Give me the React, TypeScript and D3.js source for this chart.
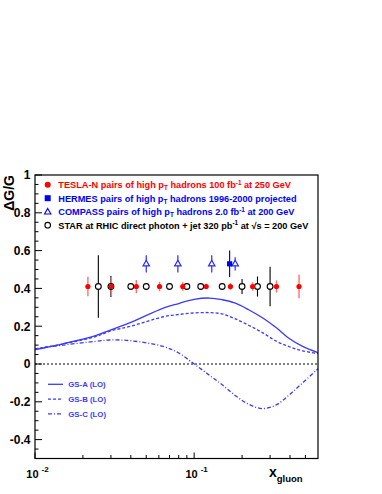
import * as d3 from "d3";
import React from "react";

const W = 382;
const H = 494;
const margin = { top: 175, right: 64, bottom: 35.5, left: 35 };

// TESLA-N pairs of high pT hadrons
const teslaX = [0.0215, 0.0302, 0.0433, 0.0606, 0.0848, 0.119, 0.169, 0.233, 0.329, 0.456];
const teslaY = [0.41, 0.41, 0.41, 0.41, 0.41, 0.41, 0.41, 0.41, 0.41, 0.41];
const teslaErr = [0.052, 0.05, 0.035, 0.025, 0.022, 0.015, 0.018, 0.022, 0.032, 0.062];

// STAR direct photon + jet
const starX = [0.025, 0.03, 0.04, 0.05, 0.07, 0.09, 0.11, 0.15, 0.2, 0.25, 0.3];
const starY = [0.41, 0.41, 0.41, 0.41, 0.41, 0.41, 0.41, 0.41, 0.41, 0.41, 0.41];
const starErr = [0.165, 0.055, 0.01, 0.01, 0.01, 0.012, 0.012, 0.012, 0.04, 0.053, 0.105];

// COMPASS
const compassX = [0.05, 0.079, 0.129, 0.181];
const compassY = [0.53, 0.53, 0.53, 0.53];
const compassErr = [0.046, 0.046, 0.046, 0.035];

// HERMES
const hermesX = [0.167];
const hermesY = [0.53];
const hermesErr = [0.07];

// GS parametrisations (LO)
const gsX = [0.01, 0.015, 0.024, 0.03, 0.04, 0.064, 0.08, 0.1, 0.125, 0.15, 0.18, 0.22, 0.27, 0.33, 0.4, 0.48, 0.6];
const gsA = [0.076, 0.107, 0.15, 0.181, 0.22, 0.296, 0.32, 0.342, 0.349, 0.34, 0.323, 0.287, 0.243, 0.19, 0.132, 0.093, 0.06];
const gsB = [0.08, 0.106, 0.145, 0.175, 0.2, 0.25, 0.262, 0.27, 0.272, 0.265, 0.24, 0.205, 0.165, 0.12, 0.09, 0.07, 0.055];
const gsC = [0.08, 0.1, 0.12, 0.127, 0.123, 0.093, 0.058, 0.0, -0.06, -0.11, -0.165, -0.213, -0.236, -0.215, -0.16, -0.1, -0.025];

const yMajor = [-0.4, -0.2, 0, 0.2, 0.4, 0.6, 0.8, 1];
const yMajorLabels = ["-0.4", "-0.2", "0", "0.2", "0.4", "0.6", "0.8", "1"];
const xMajor = [0.01, 0.1];
const xMajorExp = ["-2", "-1"];

const legendRows = [
  { color: "#ff0000", parts: [["TESLA-N pairs of high p", ""], ["T", "sub"], [" hadrons 100 fb", ""], ["-1", "sup"], [" at 250 GeV", ""]] },
  { color: "#0000ff", parts: [["HERMES pairs of high p", ""], ["T", "sub"], [" hadrons 1996-2000 projected", ""]] },
  { color: "#0000ff", parts: [["COMPASS pairs of high p", ""], ["T", "sub"], [" hadrons 2.0 fb", ""], ["-1", "sup"], [" at 200 GeV", ""]] },
  { color: "#000000", parts: [["STAR at RHIC direct photon + jet 320 pb", ""], ["-1", "sup"], [" at ", ""], ["\u221As", ""], [" = 200 GeV", ""]] },
];
const curveLabels = ["GS-A (LO)", "GS-B (LO)", "GS-C (LO)"];
const curveDash = ["none", "3,2", "4,2,1,2"];

const font = "'Liberation Sans', Arial, Helvetica, sans-serif";
const curveColor = "#3a3aff";

export default function App() {
  const x = d3.scaleLog().domain([0.01, 0.6]).range([margin.left, W - margin.right]);
  const y = d3.scaleLinear().domain([-0.5, 1]).range([H - margin.bottom, margin.top]);
  const x0 = margin.left, x1 = W - margin.right, y0 = H - margin.bottom, y1 = margin.top;

  const line = d3
    .line<number>()
    .x((_, i) => x(gsX[i]))
    .curve(d3.curveCatmullRom.alpha(0.5));
  const curves = [gsA, gsB, gsC];

  const yMinor = d3.range(-0.5, 1.0001, 0.05).map((v) => +v.toFixed(2));
  const xMinor: number[] = [];
  [0.01, 0.1].forEach((dec) => d3.range(2, 10).forEach((k) => { if (dec * k < 0.6) xMinor.push(dec * k); }));

  const tri = "M0,-3.6L3.2,2L-3.2,2Z";
  const fs = 9.2; // legend font size
  const fsSmall = 6.4;

  return (
    <svg width={W} height={H} style={{ position: "absolute", left: 0, top: 0, background: "#fff" }} fontFamily={font}>
      <defs>
        <clipPath id="frame">
          <rect x={x0} y={y1} width={x1 - x0} height={y0 - y1} />
        </clipPath>
      </defs>

      {/* zero line */}
      <line x1={x0} x2={x1} y1={y(0)} y2={y(0)} stroke="#000" strokeWidth={1} strokeDasharray="2,2" />

      {/* curves */}
      <g clipPath="url(#frame)" fill="none" stroke={curveColor}>
        {curves.map((c, i) => (
          <path key={i} d={line.y((_, j) => y(c[j]))(c) || ""} strokeWidth={1.3}
            strokeDasharray={curveDash[i] === "none" ? undefined : curveDash[i]} />
        ))}
      </g>

      {/* STAR */}
      <g stroke="#000" strokeWidth={1.1}>
        {starX.map((v, i) => (
          <line key={i} x1={x(v)} x2={x(v)} y1={y(starY[i] + starErr[i])} y2={y(starY[i] - starErr[i])} />
        ))}
      </g>
      {/* TESLA error bars */}
      <g stroke="#ff7070" strokeWidth={1.4}>
        {teslaX.map((v, i) => (
          <line key={i} x1={x(v)} x2={x(v)} y1={y(teslaY[i] + teslaErr[i])} y2={y(teslaY[i] - teslaErr[i])} />
        ))}
      </g>
      <g fill="#fff" stroke="#000" strokeWidth={1.1}>
        {starX.map((v, i) => (
          <circle key={i} cx={x(v)} cy={y(starY[i])} r={2.9} />
        ))}
      </g>
      <g fill="#ff0000">
        {teslaX.map((v, i) => (
          <circle key={i} cx={x(v)} cy={y(teslaY[i])} r={2.6} />
        ))}
      </g>

      {/* COMPASS */}
      <g stroke="#2a2aff" strokeWidth={1.2} fill="#fff">
        {compassX.map((v, i) => (
          <g key={i}>
            <line x1={x(v)} x2={x(v)} y1={y(compassY[i] + compassErr[i])} y2={y(compassY[i] - compassErr[i])} />
            <path d={tri} transform={`translate(${x(v)},${y(compassY[i])})`} />
          </g>
        ))}
      </g>
      {/* HERMES */}
      <g stroke="#0000ff" strokeWidth={1.2} fill="#0000ff">
        {hermesX.map((v, i) => (
          <g key={i}>
            <line x1={x(v)} x2={x(v)} y1={y(hermesY[i] + hermesErr[i])} y2={y(hermesY[i] - hermesErr[i])} />
            <rect x={x(v) - 2.6} y={y(hermesY[i]) - 2.6} width={5.2} height={5.2} stroke="none" />
          </g>
        ))}
      </g>

      {/* frame */}
      <rect x={x0} y={y1} width={x1 - x0} height={y0 - y1} fill="none" stroke="#000" strokeWidth={1.2} />

      {/* axis ticks */}
      <g stroke="#000" strokeWidth={1}>
        {yMinor.map((v) => (
          <line key={v} x1={x0} x2={x0 + (yMajor.some((m) => Math.abs(m - v) < 1e-6) ? 7 : 3.5)} y1={y(v)} y2={y(v)} />
        ))}
        {xMinor.map((v) => (
          <line key={v} x1={x(v)} x2={x(v)} y1={y0} y2={y0 - 3.5} />
        ))}
        {xMajor.map((v) => (
          <line key={v} x1={x(v)} x2={x(v)} y1={y0} y2={y0 - 6} />
        ))}
      </g>
      <g fontSize={12} fontWeight="bold" textAnchor="end">
        {yMajor.map((v, i) => (
          <text key={v} x={x0 - 4.5} y={y(v) + 4.3}>{yMajorLabels[i]}</text>
        ))}
      </g>
      <g fontWeight="bold">
        {xMajor.map((v, i) => (
          <text key={v} x={x(v) + 2.5} y={477.5} textAnchor="middle" fontSize={11}>
            10<tspan fontSize={8} dx={3} dy={-6}>{xMajorExp[i]}</tspan>
          </text>
        ))}
      </g>

      {/* axis titles */}
      <text transform={`translate(13.5,${y1}) rotate(-90)`} textAnchor="end" fontSize={14} fontWeight="bold">
        {"\u0394G/G"}
      </text>
      <text x={269} y={477} fontSize={14} fontWeight="bold">
        x<tspan fontSize={9.5} dy={5}>gluon</tspan>
      </text>

      {/* top legend */}
      {legendRows.map((row, i) => {
        const ly = 184.7 + i * 13.5;
        return (
          <g key={i}>
            {i === 0 && <circle cx={47.7} cy={ly} r={3} fill="#ff0000" />}
            {i === 1 && <rect x={44.7} y={ly - 3} width={6} height={6} fill="#0000ff" />}
            {i === 2 && <path d={tri} transform={`translate(47.7,${ly + 0.3})`} fill="#fff" stroke="#0000ff" strokeWidth={1.1} />}
            {i === 3 && <circle cx={47.7} cy={ly} r={2.8} fill="#fff" stroke="#000" strokeWidth={1.1} />}
            <text x={58.3} y={ly + 3.4} fill={row.color} fontSize={fs} fontWeight="bold">
              {row.parts.map(([t, k], j) => {
                const prev = j > 0 ? row.parts[j - 1][1] : "";
                const dy = (k === "sub" ? 2.3 : k === "sup" ? -3.6 : 0) - (prev === "sub" ? 2.3 : prev === "sup" ? -3.6 : 0);
                return (
                  <tspan key={j} dy={dy} fontSize={k ? fsSmall : fs}>{t}</tspan>
                );
              })}
            </text>
          </g>
        );
      })}

      {/* bottom legend */}
      {curveLabels.map((lab, i) => {
        const ly = 384.3 + i * 14.8;
        return (
          <g key={lab}>
            <line x1={48} x2={63} y1={ly} y2={ly} stroke={curveColor} strokeWidth={1.3}
              strokeDasharray={curveDash[i] === "none" ? undefined : curveDash[i]} />
            <text x={68.3} y={ly + 2.8} fill={curveColor} fontSize={7.8} fontWeight="bold">{lab}</text>
          </g>
        );
      })}
    </svg>
  );
}
